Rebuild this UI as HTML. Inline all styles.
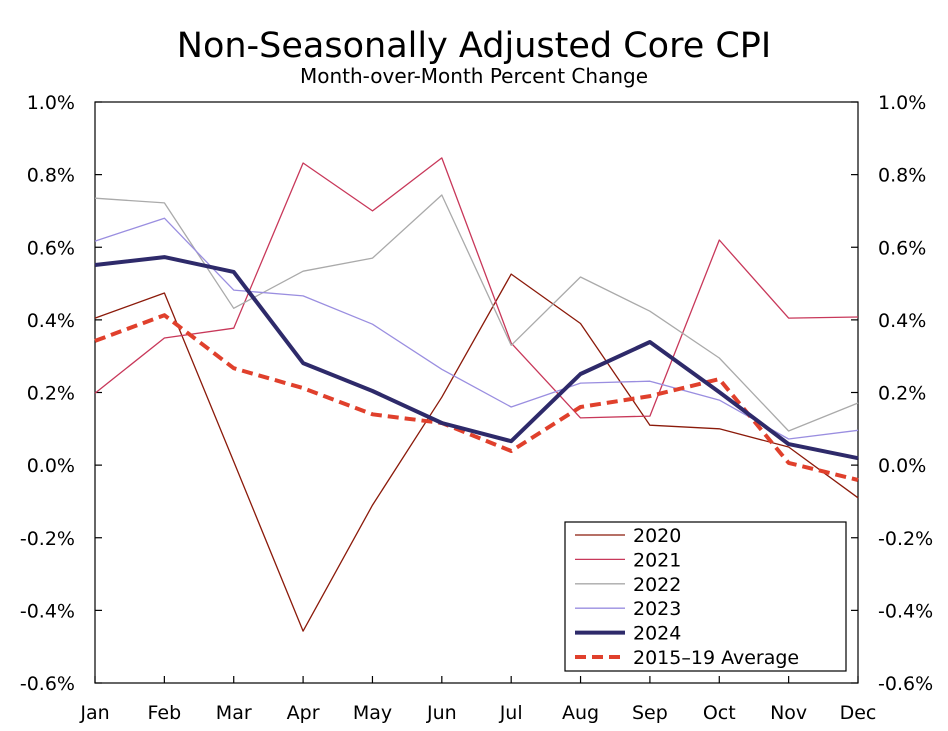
<!DOCTYPE html>
<html><head><meta charset="utf-8"><style>
body{margin:0;background:#fff;}
svg text{font-family:"DejaVu Sans","Liberation Sans",sans-serif;fill:#000;}
</style></head><body>
<svg id="chart" width="948" height="726" viewBox="0 0 948 726" xmlns="http://www.w3.org/2000/svg">
<text x="474" y="57" font-size="35" text-anchor="middle">Non-Seasonally Adjusted Core CPI</text>
<text x="474" y="83" font-size="20" text-anchor="middle">Month-over-Month Percent Change</text>
<g id="axes"></g>
<g id="series"></g>
<g id="legend"></g>
</svg>
<script>
const months=["Jan","Feb","Mar","Apr","May","Jun","Jul","Aug","Sep","Oct","Nov","Dec"];
const yTicks=[1.0,0.8,0.6,0.4,0.2,0.0,-0.2,-0.4,-0.6];
const s2020=[0.405,0.474,0.01,-0.457,-0.11,0.187,0.526,0.39,0.11,0.10,0.05,-0.09];
const s2021=[0.198,0.35,0.377,0.832,0.70,0.846,0.336,0.13,0.135,0.62,0.405,0.408];
const s2022=[0.735,0.722,0.432,0.534,0.57,0.744,0.33,0.518,0.424,0.295,0.094,0.171];
const s2023=[0.617,0.68,0.482,0.466,0.388,0.264,0.16,0.226,0.231,0.179,0.072,0.096];
const s2024=[0.551,0.573,0.532,0.281,0.204,0.116,0.066,0.251,0.339,0.201,0.058,0.019];
const sAvg=[0.342,0.413,0.267,0.212,0.14,0.116,0.039,0.16,0.19,0.237,0.006,-0.041];
const seriesNames=["2020","2021","2022","2023","2024","2015\u201319 Average"];

const NS="http://www.w3.org/2000/svg";
const X0=95,X1=858,Y0=102,Y1=683,VMAX=1.0,VMIN=-0.6;
const xs=i=>X0+i*(X1-X0)/(months.length-1);
const ys=v=>Y0+(VMAX-v)/(VMAX-VMIN)*(Y1-Y0);
function mk(tag,attrs,parent){const e=document.createElementNS(NS,tag);for(const k in attrs)e.setAttribute(k,attrs[k]);parent.appendChild(e);return e;}
const axes=document.getElementById('axes');
const frame=mk('rect',{x:X0,y:Y0,width:X1-X0,height:Y1-Y0,fill:'none',stroke:'#000','stroke-width':1.2},axes);


yTicks.forEach(v=>{
  const y=ys(v);
  const lab=v.toFixed(1)+'%';
  const t1=mk('line',{x1:X0,x2:X0+7,y1:y,y2:y,stroke:'#000','stroke-width':1.2},axes);
  
  
  const t2=mk('line',{x1:X1-7,x2:X1,y1:y,y2:y,stroke:'#000','stroke-width':1.2},axes);
  
  
  const a=mk('text',{x:X0-20,y:y+7,'font-size':19,'text-anchor':'end'},axes);a.textContent=lab;
  
  
  const b=mk('text',{x:X1+20,y:y+7,'font-size':19,'text-anchor':'start'},axes);b.textContent=lab;
  
  
});
months.forEach((m,i)=>{
  const x=xs(i);
  const t=mk('line',{x1:x,x2:x,y1:Y1-7,y2:Y1,stroke:'#000','stroke-width':1.2},axes);
  
  
  const l=mk('text',{x:x,y:719,'font-size':19,'text-anchor':'middle'},axes);l.textContent=m;
  
  
});
const data=[s2020,s2021,s2022,s2023,s2024,sAvg];
const styles=[
 {stroke:'#8b1a0a',w:1.3,d:''},
 {stroke:'#c8385a',w:1.3,d:''},
 {stroke:'#aaaaaa',w:1.3,d:''},
 {stroke:'#9a8ee0',w:1.3,d:''},
 {stroke:'#2e2a6a',w:4,d:''},
 {stroke:'#e0402c',w:4,d:'11,6'}];
const sg=document.getElementById('series');
const order=[0,1,2,3,5,4];
order.forEach(k=>{
  const pts=data[k].map((v,i)=>xs(i).toFixed(1)+','+ys(v).toFixed(1)).join(' ');
  const p=mk('polyline',{points:pts,fill:'none',stroke:styles[k].stroke,'stroke-width':styles[k].w,'stroke-dasharray':styles[k].d,'stroke-linejoin':'round'},sg);
  
  
});
const lg=document.getElementById('legend');
const box=mk('rect',{x:565,y:522,width:281,height:149,fill:'#fff',stroke:'#000','stroke-width':1.2},lg);


seriesNames.forEach((n,k)=>{
  const y=535+k*24.4;
  const l=mk('line',{x1:575,x2:625,y1:y,y2:y,stroke:styles[k].stroke,'stroke-width':styles[k].w,'stroke-dasharray':styles[k].d},lg);
  
  
  const t=mk('text',{x:633,y:y+7,'font-size':19},lg);t.textContent=n;
  
  
});
</script>
</body></html>
